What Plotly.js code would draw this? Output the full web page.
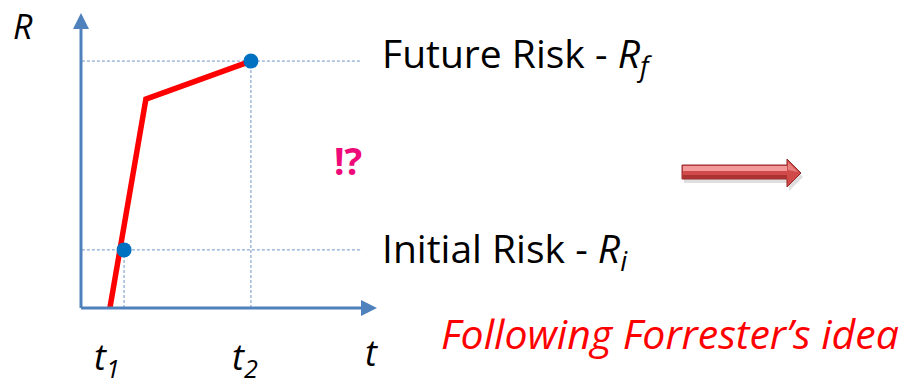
<!DOCTYPE html>
<html>
<head>
<meta charset="utf-8">
<script src="https://cdn.plot.ly/plotly-3.0.1.min.js"></script>
<style>html,body{margin:0;padding:0;background:#fff;}#chart{width:906px;height:388px;}</style>
</head>
<body>
<div id="chart"></div>
<script>
// ---- data (abstract units: time t, risk R) ----
const lineT = [0.98, 2.2, 5.76];
const lineR = [0, 7.08, 8.37];
const pointT = [1.46, 5.76];
const pointR = [1.97, 8.37];
const tickLabels = ['<i>t<sub>1</sub></i>', '<i>t<sub>2</sub></i>'];
const levelLabels = ['Initial Risk - <i>R<sub>i</sub></i>', 'Future Risk - <i>R<sub>f</sub></i>'];

// ---- layout geometry (pixels -> axis units) ----
const W = 906, H = 388, ox = 81, oy = 308, s = 29.5;
const dx = px => (px - ox) / s;
const dy = py => (oy - py) / s;
const blue = '#4f81bd';
const FONT = '"Open Sans", "Noto Sans", sans-serif';

function path(pts){ return 'M' + pts.map(p => dx(p[0]).toFixed(3) + ',' + dy(p[1]).toFixed(3)).join(' L') + ' Z'; }

const shapes = [];
// dashed guides
for (let i = 0; i < pointT.length; i++) {
  shapes.push({type:'line', xref:'x', yref:'y', x0:0.03, x1:dx(362), y0:pointR[i], y1:pointR[i],
    line:{color:'#6f95c8', width:1, dash:'3px,2px'}, layer:'below'});
  shapes.push({type:'line', xref:'x', yref:'y', x0:pointT[i], x1:pointT[i], y0:0, y1:pointR[i],
    line:{color:'#6f95c8', width:1, dash:'3px,2px'}, layer:'below'});
}
// axes
shapes.push({type:'line', xref:'x', yref:'y', x0:0, x1:0, y0:0, y1:dy(26), line:{color:blue, width:3}});
shapes.push({type:'line', xref:'x', yref:'y', x0:0, x1:dx(362), y0:0, y1:0, line:{color:blue, width:3}});
shapes.push({type:'path', xref:'x', yref:'y', path:path([[81,13],[73,29],[89,29]]), fillcolor:blue, line:{width:0}});
shapes.push({type:'path', xref:'x', yref:'y', path:path([[377,308],[361,300],[361,316]]), fillcolor:blue, line:{width:0}});
// block arrow
const arrowPts = [[682,165],[787,165],[787,159],[801,173],[787,187],[787,179],[682,179]];
shapes.push({type:'path', xref:'x', yref:'y', path:path(arrowPts.map(p=>[p[0]+2,p[1]+4])), fillcolor:'rgba(0,0,0,0.13)', line:{width:0}});
shapes.push({type:'path', xref:'x', yref:'y', path:path(arrowPts), fillcolor:'rgb(208,74,74)', line:{color:'rgb(150,42,42)', width:1}});
shapes.push({type:'path', xref:'x', yref:'y', path:path([[683,166],[787,166],[787,171],[683,171]]), fillcolor:'rgba(255,180,180,0.75)', line:{width:0}});
shapes.push({type:'path', xref:'x', yref:'y', path:path([[788,162],[798,172],[788,170]]), fillcolor:'rgba(255,180,180,0.5)', line:{width:0}});
shapes.push({type:'path', xref:'x', yref:'y', path:path([[683,175],[787,175],[787,178.5],[683,178.5]]), fillcolor:'rgba(130,25,25,0.45)', line:{width:0}});

const annotations = [];
annotations.push({x:dx(23), y:dy(1), xref:'x', yref:'y', yanchor:'top', text:'<i>R</i>', showarrow:false, font:{family:FONT, size:34, color:'#000'}});
const tickShift = [-17, -6];
for (let i = 0; i < pointT.length; i++) {
  annotations.push({x:pointT[i], y:dy(387), xref:'x', yref:'y', yanchor:'bottom', xshift:tickShift[i], text:tickLabels[i], showarrow:false, font:{family:FONT, size:36, color:'#000'}});
}
const levelShift = [0, 6];
for (let i = 0; i < pointR.length; i++) {
  annotations.push({x:dx(380), y:pointR[i], xref:'x', yref:'y', yshift:levelShift[i], xanchor:'left', text:levelLabels[i], showarrow:false, font:{family:FONT, size:39, color:'#000'}});
}
annotations.push({x:dx(371), y:dy(387), xref:'x', yref:'y', yanchor:'bottom', yshift:8, text:'<i>t</i>', showarrow:false, font:{family:FONT, size:36, color:'#000'}});
annotations.push({x:dx(348), y:dy(160), xref:'x', yref:'y', text:'<b>!?</b>', showarrow:false, font:{family:FONT, size:37, color:'#ee0a78'}});
annotations.push({x:dx(439), y:dy(333), xref:'x', yref:'y', xanchor:'left', text:'<i>Following Forrester’s idea</i>', showarrow:false, font:{family:FONT, size:41, color:'#ff0000'}});

const traces = [
  {x:lineT, y:lineR, mode:'lines', line:{color:'#ff0000', width:5.5}, hoverinfo:'skip', cliponaxis:false},
  {x:pointT, y:pointR, mode:'markers', marker:{color:'#0070c0', size:15}, hoverinfo:'skip', cliponaxis:false}
];

const layout = {
  width:W, height:H, margin:{l:0, r:0, t:0, b:0},
  paper_bgcolor:'#fff', plot_bgcolor:'#fff', showlegend:false,
  xaxis:{range:[dx(0), dx(W)], visible:false, fixedrange:true},
  yaxis:{range:[dy(H), dy(0)], visible:false, fixedrange:true},
  shapes:shapes, annotations:annotations
};
Plotly.newPlot('chart', traces, layout, {staticPlot:true});
</script>
</body>
</html>
